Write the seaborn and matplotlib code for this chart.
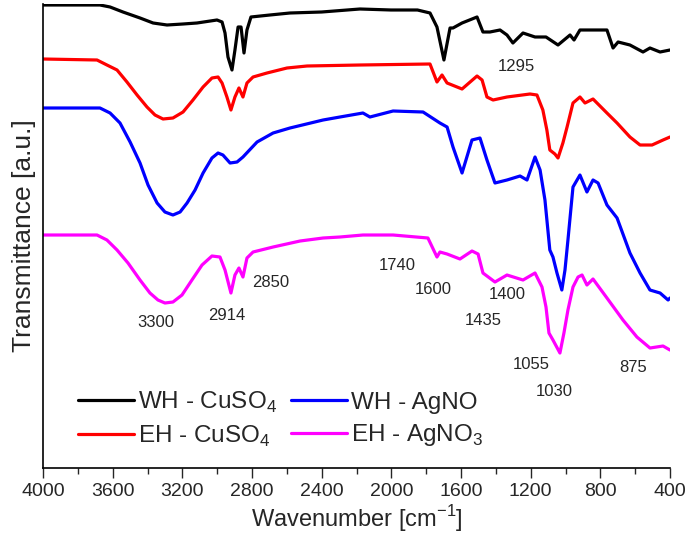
import numpy as np
import pandas as pd
import matplotlib
matplotlib.use('Agg')
import matplotlib.pyplot as plt
from matplotlib.ticker import MultipleLocator
import seaborn as sns

# espectros FTIR (numero de onda, transmitancia en u.a.)
wn_wh_cu = [4000, 3673, 3615, 3541, 3443, 3368, 3288, 3196, 3116, 3001, 2972, 2955, 2938, 2915, 2898,
            2880, 2863, 2846, 2829, 2806, 2697, 2582, 2400, 2180,
            2002, 1850, 1778, 1738, 1698, 1663, 1646, 1594, 1508, 1474, 1434, 1376, 1336, 1302, 1244,
            1175, 1112, 1043, 974, 951, 917, 842, 762, 727, 698, 630, 555, 515, 457, 400]
t_wh_cu = [463, 463, 461, 456, 450, 445, 443, 444, 445, 448, 446, 435, 411, 398, 418,
           441, 441, 415, 438, 451, 453, 455, 456, 459,
           458, 458, 455, 441, 408, 440, 440, 445, 451, 436, 436, 438, 433, 425, 435,
           431, 431, 423, 433, 428, 438, 438, 438, 420, 426, 423, 416, 420, 416, 418]

wn_eh_cu = [4000, 3690, 3633, 3575, 3518, 3460, 3403, 3357, 3311, 3254, 3196, 3139, 3081, 3030, 2995,
            2972, 2944, 2921, 2898, 2875, 2852, 2829, 2794, 2714, 2599, 2484,
            2180, 1778, 1738, 1709, 1680, 1594, 1508, 1479, 1451, 1416, 1336, 1204, 1164, 1130, 1107,
            1090, 1061, 1043, 1015, 991, 957, 917, 888, 842, 762, 704, 630, 572, 503, 440, 400]
t_eh_cu = [409, 408, 403, 398, 386, 373, 361, 353, 349, 350, 356, 368, 381, 390, 391,
           385, 371, 358, 371, 380, 371, 385, 391, 395, 400, 402,
           403, 404, 386, 393, 385, 379, 392, 388, 371, 368, 371, 374, 373, 358, 338,
           318, 314, 310, 325, 341, 365, 371, 365, 369, 355, 345, 331, 323, 323, 328, 331]

wn_wh_ag = [4000, 3673, 3615, 3558, 3500, 3443, 3397, 3345, 3300, 3254, 3213, 3173, 3127, 3081, 3030,
            2995, 2967, 2926, 2886, 2852, 2771, 2679, 2582, 2392, 2295,
            2163, 2123, 1990, 1818, 1721, 1680, 1646, 1594, 1537, 1491, 1451, 1405, 1336, 1261, 1221,
            1175, 1146, 1118, 1090, 1072, 1049, 1021, 1003, 986, 974, 957, 917, 877, 842, 813, 762,
            704, 630, 572, 515, 457, 411, 400]
t_wh_ag = [360, 360, 355, 345, 326, 305, 283, 265, 256, 253, 256, 265, 278, 295, 310,
           315, 313, 305, 306, 311, 326, 335, 340, 348, 351,
           355, 351, 357, 356, 345, 341, 321, 295, 328, 330, 308, 285, 288, 292, 288,
           311, 298, 268, 218, 211, 195, 178, 198, 228, 250, 281, 293, 276, 288, 285, 263,
           250, 215, 195, 178, 175, 168, 170]

wn_eh_ag = [4000, 3690, 3633, 3575, 3512, 3443, 3386, 3340, 3300, 3254, 3202, 3145, 3087, 3030, 2984,
            2955, 2921, 2898, 2875, 2852, 2829, 2794, 2679, 2524,
            2392, 2295, 2163, 1990, 1790, 1738, 1721, 1680, 1606, 1537, 1502, 1474, 1405, 1336, 1244,
            1175, 1135, 1112, 1095, 1072, 1032, 1009, 986, 957, 928, 905, 877, 842, 762, 670, 590,
            515, 440, 400]
t_eh_ag = [233, 233, 228, 218, 205, 188, 175, 168, 165, 166, 173, 188, 203, 212, 211,
           198, 175, 193, 200, 191, 210, 216, 221, 227,
           230, 231, 233, 233, 230, 211, 216, 214, 209, 217, 214, 195, 186, 193, 188,
           195, 181, 161, 135, 128, 115, 135, 158, 181, 191, 193, 183, 189, 170, 148, 131,
           120, 122, 118]

series_labels = ['WH - CuSO$_4$', 'EH - CuSO$_4$', 'WH - AgNO', 'EH - AgNO$_3$']
series_colors = ['black', 'red', 'blue', 'magenta']

# bandas anotadas (texto, numero de onda, altura del texto)
peak_labels = ['1295', '3300', '2914', '2850', '1740', '1600', '1400', '1435', '1055', '1030', '875']
peak_x = [1284, 3351, 2944, 2691, 1968, 1761, 1336, 1474, 1198, 1066, 612]
peak_y = [401, 146, 153, 186, 203, 179, 174, 148, 104, 77, 101]

sns.set_style('ticks')
plt.rcParams['font.family'] = ['Liberation Sans', 'DejaVu Sans']
plt.rcParams['mathtext.fontset'] = 'custom'
plt.rcParams['mathtext.rm'] = 'Liberation Sans'

fig = plt.figure(figsize=(6.85, 5.4), dpi=100)
ax = fig.add_axes([0.0628, 0.1333, 0.9153, 0.8593])

datos = [(wn_wh_cu, t_wh_cu), (wn_eh_cu, t_eh_cu), (wn_wh_ag, t_wh_ag), (wn_eh_ag, t_eh_ag)]
for (wn, t), lab, col in zip(datos, series_labels, series_colors):
    df = pd.DataFrame({'wn': wn, 't': t})
    sns.lineplot(data=df, x='wn', y='t', ax=ax, color=col, lw=2.3, label=lab, sort=False)

for txt, px, py in zip(peak_labels, peak_x, peak_y):
    ax.text(px, py, txt, fontsize=12, ha='center', va='center')

ax.set_xlim(4000, 400)
ax.set_ylim(0, 464)
ax.xaxis.set_major_locator(MultipleLocator(400))
ax.xaxis.set_minor_locator(MultipleLocator(200))
ax.tick_params(axis='x', which='major', direction='out', length=7, width=1, labelsize=14, pad=4)
ax.tick_params(axis='x', which='minor', direction='out', length=4, width=1)
ax.set_yticks([])
sns.despine(ax=ax)
for s in ['left', 'bottom']:
    ax.spines[s].set_linewidth(1.2)
    ax.spines[s].set_color('black')

ax.set_xlabel('Wavenumber [cm$^{-1}$]', fontsize=17, labelpad=2)
ax.set_ylabel('Transmittance [a.u.]', fontsize=19, labelpad=5)

ax.legend(loc='center left', bbox_to_anchor=(0.021, 0.105), ncol=2, frameon=False, fontsize=17.5,
          handlelength=2.3, handletextpad=0.15, columnspacing=0.6, labelspacing=0.35, borderpad=0.4)

fig.savefig('out.png', dpi=100)
